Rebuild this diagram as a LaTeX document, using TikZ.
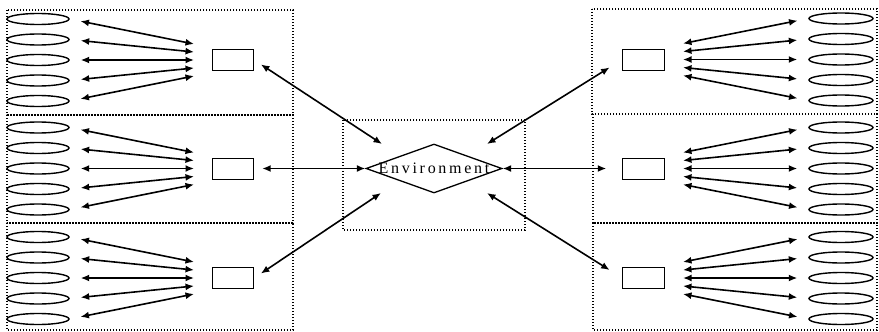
\documentclass[tikz,border=0pt]{standalone}
\usepackage{fontspec}
\setmainfont{Liberation Serif}
\newfontfamily\envfont[LetterSpace=17]{Liberation Serif}
\usetikzlibrary{arrows.meta,shapes.geometric}
\begin{document}
\begin{tikzpicture}[x=1pt,y=-1pt,
  box/.style={line width=1.2pt,dash pattern=on 1.1pt off 1.9pt},
  ell/.style={draw,ellipse,line width=1.4pt,minimum width=62pt,minimum height=11pt,inner sep=0pt},
  agent/.style={draw,rectangle,line width=0.9pt,minimum width=41.5pt,minimum height=21pt,inner sep=0pt},
  link/.style={line width=1.6pt,{Latex[length=8.5pt,width=7pt]}-{Latex[length=8.5pt,width=7pt]}},
  env/.style={draw,diamond,line width=1.3pt,minimum width=136pt,minimum height=49pt,inner sep=0pt}
]
\useasboundingbox (0,0) rectangle (879,332);
% dotted group boxes
\draw[box] (7,10) rectangle (293,115);
\draw[box] (7,115) rectangle (293,223);
\draw[box] (7,223) rectangle (293,330);
\draw[box] (592,9) rectangle (877,114);
\draw[box] (593,114) rectangle (877,223);
\draw[box] (593,223) rectangle (877,330);
\draw[box] (343,120) rectangle (525,230);
% environment
\node[env,label={[inner sep=0pt]center:{\envfont\fontsize{16}{16}\selectfont Environment}}] (env) at (434,168.5) {};
\coordinate (eUL) at (382,144);
\coordinate (eLL) at (381,193);
\coordinate (eUR) at (487,144);
\coordinate (eLR) at (487,193);
% left groups
\foreach \g/\cy in {1/60,2/168.5,3/278} {
  \node[agent] (L\g) at (233,\cy) {};
  \foreach \i/\dy/\cdy in {1/-41/-16,2/-20.5/-8,3/0/0,4/20.5/8,5/41/16} {
    \node[ell] (L\g e\i) at (38,\cy+\dy) {};
    \coordinate (L\g c\i) at (194,\cy+\cdy);
    \draw[link,shorten <=11pt] (L\g e\i.east) -- (L\g c\i);
  }
}
% right groups
\foreach \g/\cy in {1/59.5,2/168.5,3/278} {
  \node[agent] (R\g) at (643.5,\cy) {};
  \foreach \i/\dy/\cdy in {1/-41/-16,2/-20.5/-8,3/0/0,4/20.5/8,5/41/16} {
    \node[ell,minimum width=64pt] (R\g e\i) at (841,\cy+\dy) {};
    \coordinate (R\g c\i) at (683,\cy+\cdy);
    \draw[link,shorten >=11pt] (R\g c\i) -- (R\g e\i.west);
  }
}
% links to environment
\draw[link,shorten <=8pt] (L1.east) -- (eUL);
\draw[link,shorten <=8pt] (L2.east) -- (env.west);
\draw[link,shorten <=8pt] (L3.east) -- (eLL);
\draw[link,shorten >=15pt] (eUR) -- (R1.west);
\draw[link,shorten >=16pt] (env.east) -- (R2.west);
\draw[link,shorten >=15pt] (eLR) -- (R3.west);
\end{tikzpicture}
\end{document}
